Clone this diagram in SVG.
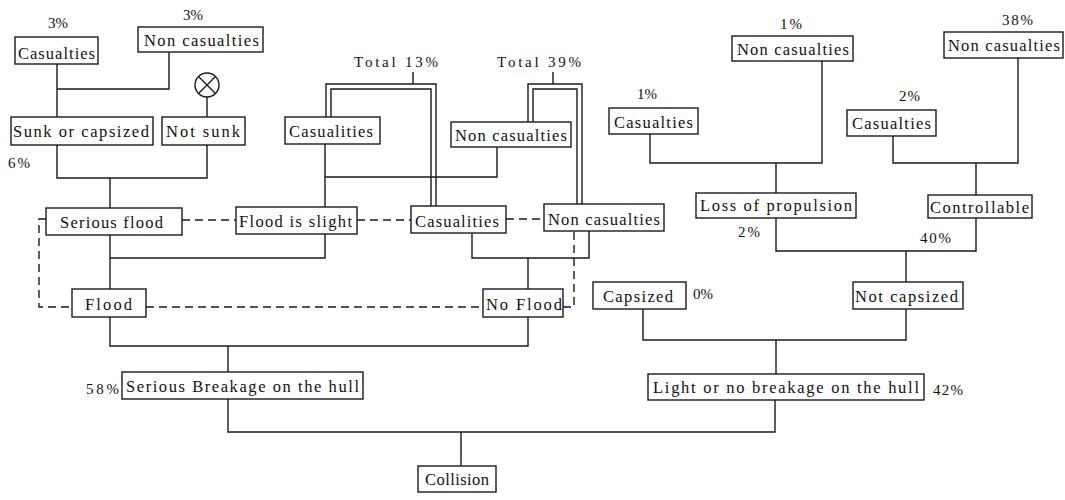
<svg xmlns="http://www.w3.org/2000/svg" width="1065" height="500" viewBox="0 0 1065 500">
<style>
.b{fill:#fff;stroke:#1a1a1a;stroke-width:1.4}
.t{font-family:"Liberation Serif","Times New Roman",serif;font-size:16.5px;fill:#111}
.p{font-family:"Liberation Serif","Times New Roman",serif;font-size:15px;fill:#111}
.c{fill:none;stroke:#1a1a1a;stroke-width:1.4}
.d{fill:none;stroke:#1a1a1a;stroke-width:1.4;stroke-dasharray:8 5}
</style>
<rect width="1065" height="500" fill="#fff"/>
<g id="connectors">
<path class="c" d="M57,64V117M57,89H169V52M207,97V117M57,145V178H207V145M110,178V208"/>
<path class="c" d="M110,235V289M110,258H325V234M325,144V207M325,177H497V147"/>
<path class="c" d="M472,233V258H589V231M528,258V289M110,317V346H528V317M228,346V372"/>
<path class="c" d="M228,399V432H775V400M461,432V466"/>
<path class="c" d="M776,340V374M643,309V340H906V309M906,282V251M776,218V251H976V218"/>
<path class="c" d="M776,193V163M650,134V163H822V61M976,195V163M893,136V163H1018V58"/>
<path class="c" d="M413,72V84M326,117V84H436V206M331,117V89H431V206"/>
<path class="c" d="M553,72V84M528,122V84H582V204M533,122V89H577V204"/>
<path class="d" d="M182,220H236M357,220H411M506,219H544M46,219H39V307H72M146,307H483M563,307H574V231"/>
</g>
<g id="n_cas_l"><rect class="b" x="15" y="37" width="83" height="27"/><text class="t" x="18" y="59" textLength="77">Casualties</text><text class="p" x="48" y="28" textLength="20">3%</text></g>
<g id="n_noncas_l"><rect class="b" x="138" y="27" width="125" height="25"/><text class="t" x="144" y="46" textLength="115">Non casualties</text><text class="p" x="183" y="20" textLength="20">3%</text></g>
<g id="n_x"><circle class="c" cx="207" cy="85" r="12"/><path class="c" d="M198.5,76.5L215.5,93.5M215.5,76.5L198.5,93.5"/></g>
<g id="n_sunk"><rect class="b" x="11" y="117" width="142" height="28"/><text class="t" x="13" y="137" textLength="136">Sunk or capsized</text><text class="p" x="8" y="168" textLength="22">6%</text></g>
<g id="n_notsunk"><rect class="b" x="162" y="117" width="83" height="28"/><text class="t" x="166" y="137" textLength="74">Not sunk</text></g>
<g id="n_total13"><text class="p" x="354" y="67" textLength="84">Total 13%</text></g>
<g id="n_total39"><text class="p" x="497" y="67" textLength="84">Total 39%</text></g>
<g id="n_casu_up"><rect class="b" x="285" y="117" width="95" height="27"/><text class="t" x="289" y="137" textLength="84">Casualities</text></g>
<g id="n_noncas_up"><rect class="b" x="451" y="122" width="120" height="25"/><text class="t" x="455" y="141" textLength="112">Non casualties</text></g>
<g id="n_serflood"><rect class="b" x="46" y="208" width="136" height="27"/><text class="t" x="60" y="228" textLength="103">Serious flood</text></g>
<g id="n_slight"><rect class="b" x="236" y="207" width="121" height="27"/><text class="t" x="239" y="227" textLength="113">Flood is slight</text></g>
<g id="n_casu_mid"><rect class="b" x="411" y="206" width="95" height="27"/><text class="t" x="415" y="227" textLength="84">Casualities</text></g>
<g id="n_noncas_mid"><rect class="b" x="544" y="204" width="120" height="27"/><text class="t" x="548" y="225" textLength="112">Non casualties</text></g>
<g id="n_flood"><rect class="b" x="72" y="289" width="74" height="28"/><text class="t" x="85" y="310" textLength="47">Flood</text></g>
<g id="n_noflood"><rect class="b" x="483" y="289" width="80" height="28"/><text class="t" x="486" y="310" textLength="76">No Flood</text></g>
<g id="n_noncas_r1"><rect class="b" x="732" y="36" width="121" height="25"/><text class="t" x="737" y="55" textLength="112">Non casualties</text><text class="p" x="780" y="29" textLength="22">1%</text></g>
<g id="n_cas_r1"><rect class="b" x="609" y="108" width="89" height="26"/><text class="t" x="614" y="128" textLength="79">Casualties</text><text class="p" x="637" y="99" textLength="20">1%</text></g>
<g id="n_loss"><rect class="b" x="696" y="193" width="160" height="25"/><text class="t" x="700" y="211" textLength="152">Loss of propulsion</text><text class="p" x="738" y="237" textLength="22">2%</text></g>
<g id="n_noncas_r2"><rect class="b" x="944" y="32" width="119" height="26"/><text class="t" x="948" y="51" textLength="112">Non casualties</text><text class="p" x="1002" y="25" textLength="31">38%</text></g>
<g id="n_cas_r2"><rect class="b" x="847" y="110" width="89" height="26"/><text class="t" x="852" y="129" textLength="79">Casualties</text><text class="p" x="899" y="101" textLength="21">2%</text></g>
<g id="n_ctrl"><rect class="b" x="928" y="195" width="104" height="23"/><text class="t" x="930" y="213" textLength="99">Controllable</text><text class="p" x="920" y="243" textLength="31">40%</text></g>
<g id="n_capsized"><rect class="b" x="593" y="282" width="93" height="27"/><text class="t" x="603" y="302" textLength="70">Capsized</text><text class="p" x="693" y="299" textLength="20">0%</text></g>
<g id="n_notcaps"><rect class="b" x="853" y="282" width="110" height="27"/><text class="t" x="855" y="302" textLength="103">Not capsized</text></g>
<g id="n_light"><rect class="b" x="648" y="374" width="276" height="26"/><text class="t" x="653" y="393" textLength="266">Light or no breakage on the hull</text><text class="p" x="933" y="395" textLength="30">42%</text></g>
<g id="n_serious"><rect class="b" x="122" y="372" width="241" height="27"/><text class="t" x="126" y="392" textLength="233">Serious Breakage on the hull</text><text class="p" x="86" y="394" textLength="33">58%</text></g>
<g id="n_collision"><rect class="b" x="418" y="466" width="78" height="26"/><text class="t" x="425" y="485" textLength="64">Collision</text></g>
</svg>
